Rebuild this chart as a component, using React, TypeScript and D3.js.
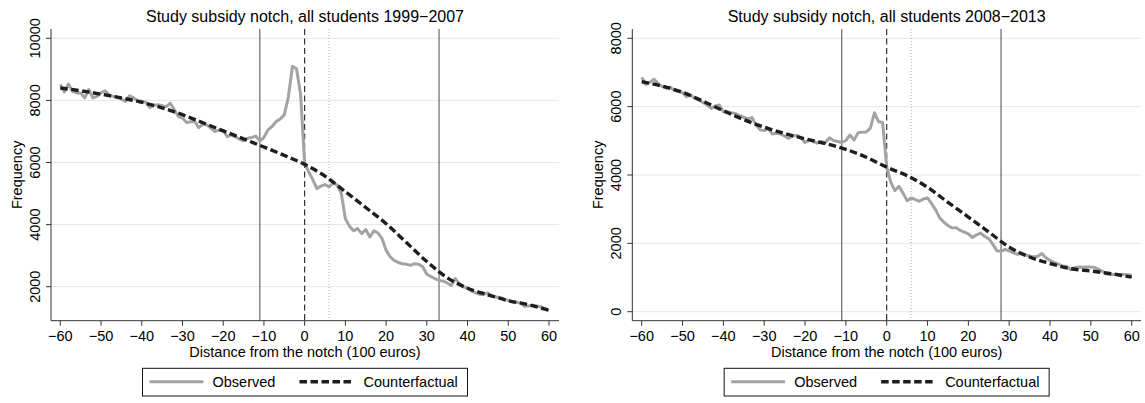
import React, { useEffect, useRef } from "react";
import * as d3 from "d3";

// bins -60..60 (100 euros)
const bins = d3.range(-60, 61);
const cfBins = d3.range(-60, 61, 5);

const obs9907 = [
  8510, 8270, 8530, 8290, 8240, 8240, 8080, 8350, 8080, 8130,
  8240, 8310, 8170, 8130, 8100, 8040, 7970, 8150, 8080, 7990,
  7970, 7940, 7770, 7840, 7860, 7830, 7800, 7910, 7700, 7480,
  7430, 7290, 7310, 7320, 7120, 7230, 7210, 7100, 7000, 7050,
  7030, 6830, 6890, 6830, 6750, 6700, 6780, 6810, 6850, 6690,
  6810, 7050, 7160, 7320, 7400, 7540, 8110, 9100, 9020, 8200,
  5970, 5700, 5450, 5160, 5240, 5290, 5220, 5340, 5270, 5000,
  4190, 3950, 3800, 3870, 3710, 3840, 3600, 3800, 3730, 3550,
  3170, 2960, 2850, 2780, 2740, 2720, 2690, 2740, 2720, 2640,
  2400, 2330, 2260, 2200, 2180, 2120, 2040, 2260, 2100, 1990,
  1960, 1860, 1800, 1750, 1750, 1800, 1690, 1670, 1650, 1590,
  1560, 1510, 1500, 1470, 1370, 1380, 1400, 1380, 1350, 1290, 1240,
];
const cf9907 = [
  8400, 8310, 8200, 8080, 7940, 7760, 7540, 7280, 7020, 6760, 6500, 6230,
  5940, 5560, 5060, 4550, 4030, 3420, 2810, 2290, 1950, 1740, 1550, 1420, 1240,
];

const obs0813 = [
  6860, 6650, 6710, 6800, 6680, 6590, 6540, 6570, 6470, 6440,
  6410, 6290, 6340, 6240, 6200, 6120, 6050, 5950, 6020, 6050,
  5850, 5850, 5820, 5800, 5740, 5690, 5640, 5680, 5460, 5320,
  5300, 5350, 5200, 5220, 5200, 5140, 5070, 5140, 5160, 5090,
  4950, 5020, 4980, 4930, 4980, 4950, 5090, 5010, 4980, 4950,
  5010, 5170, 5020, 5240, 5250, 5260, 5370, 5820, 5560, 5540,
  4230, 3790, 3540, 3670, 3470, 3250, 3330, 3280, 3230, 3300,
  3330, 3160, 2980, 2740, 2620, 2520, 2450, 2460, 2380, 2330,
  2280, 2170, 2250, 2300, 2200, 2140, 1970, 1780, 1770, 1820,
  1780, 1720, 1680, 1700, 1660, 1630, 1600, 1620, 1700, 1580,
  1500, 1440, 1390, 1340, 1330, 1230, 1290, 1310, 1300, 1310,
  1310, 1290, 1230, 1170, 1100, 1090, 1090, 1090, 1090, 1080, 1070,
];
const cf0813 = [
  6730, 6600, 6420, 6160, 5880, 5620, 5400, 5215, 5060, 4920, 4750, 4520,
  4230, 3980, 3640, 3200, 2770, 2330, 1890, 1600, 1410, 1260, 1190, 1110, 1010,
];

const xTicks = [-60, -50, -40, -30, -20, -10, 0, 10, 20, 30, 40, 50, 60];
const yTicks9907 = [2000, 4000, 6000, 8000, 10000];
const yTicks0813 = [0, 2000, 4000, 6000, 8000];

const panels = [
  {
    title: "Study subsidy notch, all students 1999\u22122007",
    obs: obs9907, cf: cf9907, yTicks: yTicks9907,
    lower: -11, upper: 33, dominated: 6,
    left: 51, right: 559, xRange: [60.3, 549], yRange: [286.7, 38.3],
  },
  {
    title: "Study subsidy notch, all students 2008\u22122013",
    obs: obs0813, cf: cf0813, yTicks: yTicks0813,
    lower: -11, upper: 28, dominated: 6,
    left: 632.3, right: 1141, xRange: [641.7, 1131.7], yRange: [311.7, 38.3],
  },
];

const FONT = "'Liberation Sans', Arial, Helvetica, sans-serif";
const top = 29;
const bottom = 320.7;

const App = () => {
  const svgRef = useRef<SVGSVGElement>(null);

  useEffect(() => {
    const svg = d3.select(svgRef.current);
    svg.selectAll("*").remove();
    svg.append("rect").attr("width", 1145).attr("height", 403).attr("fill", "#fff");

    panels.forEach((p) => {
      const x = d3.scaleLinear().domain([-60, 60]).range(p.xRange);
      const y = d3
        .scaleLinear()
        .domain([p.yTicks[0], p.yTicks[p.yTicks.length - 1]])
        .range(p.yRange);
      const g = svg.append("g").attr("font-family", FONT);
      const cx = (p.left + p.right) / 2;

      // gridlines
      g.selectAll(".grid")
        .data(p.yTicks)
        .enter()
        .append("line")
        .attr("x1", p.left)
        .attr("x2", p.right)
        .attr("y1", (d) => y(d))
        .attr("y2", (d) => y(d))
        .attr("stroke", "#e6e6e6")
        .attr("stroke-width", 1);

      // reference lines
      g.append("line")
        .attr("x1", x(p.dominated)).attr("x2", x(p.dominated))
        .attr("y1", top).attr("y2", bottom)
        .attr("stroke", "#a8a8a8").attr("stroke-width", 0.9)
        .attr("stroke-dasharray", "1,2");
      [p.lower, p.upper].forEach((v) => {
        g.append("line")
          .attr("x1", x(v)).attr("x2", x(v))
          .attr("y1", top).attr("y2", bottom)
          .attr("stroke", "#4a4a4a").attr("stroke-width", 1);
      });
      g.append("line")
        .attr("x1", x(0)).attr("x2", x(0))
        .attr("y1", top).attr("y2", bottom)
        .attr("stroke", "#222").attr("stroke-width", 1.1)
        .attr("stroke-dasharray", "6,3.5");

      // series
      const line = d3
        .line<number>()
        .x((d, i) => x(bins[i]))
        .y((d) => y(d));
      g.append("path")
        .datum(p.obs)
        .attr("d", line)
        .attr("fill", "none")
        .attr("stroke", "#a3a3a3")
        .attr("stroke-width", 3)
        .attr("stroke-linejoin", "round");

      const cfLine = d3
        .line<number>()
        .curve(d3.curveMonotoneX)
        .x((d, i) => x(cfBins[i]))
        .y((d) => y(d));
      g.append("path")
        .datum(p.cf)
        .attr("d", cfLine)
        .attr("fill", "none")
        .attr("stroke", "#1e1e1e")
        .attr("stroke-width", 3.4)
        .attr("stroke-dasharray", "7.5,3.5");

      // axes
      g.append("line")
        .attr("x1", p.left).attr("x2", p.left)
        .attr("y1", top).attr("y2", bottom)
        .attr("stroke", "#333").attr("stroke-width", 1);
      g.append("line")
        .attr("x1", p.left).attr("x2", p.right)
        .attr("y1", bottom).attr("y2", bottom)
        .attr("stroke", "#333").attr("stroke-width", 1);

      xTicks.forEach((t) => {
        g.append("line")
          .attr("x1", x(t)).attr("x2", x(t))
          .attr("y1", bottom).attr("y2", bottom + 5)
          .attr("stroke", "#333");
        g.append("text")
          .attr("x", x(t))
          .attr("y", 340.5)
          .attr("text-anchor", "middle")
          .attr("font-size", 14.5)
          .text(d3.format("d")(t));
      });
      p.yTicks.forEach((t) => {
        g.append("line")
          .attr("x1", p.left - 5).attr("x2", p.left)
          .attr("y1", y(t)).attr("y2", y(t))
          .attr("stroke", "#333");
        g.append("text")
          .attr("transform", `translate(${p.left - 11},${y(t)}) rotate(-90)`)
          .attr("text-anchor", "middle")
          .attr("font-size", 14.5)
          .text(t);
      });

      g.append("text")
        .attr("x", cx)
        .attr("y", 356.5)
        .attr("text-anchor", "middle")
        .attr("font-size", 14.5)
        .text("Distance from the notch (100 euros)");
      g.append("text")
        .attr("transform", `translate(${p.left - 29},${(top + bottom) / 2}) rotate(-90)`)
        .attr("text-anchor", "middle")
        .attr("font-size", 14.5)
        .text("Frequency");
      g.append("text")
        .attr("x", cx)
        .attr("y", 22)
        .attr("text-anchor", "middle")
        .attr("font-size", 16)
        .text(p.title);

      // legend
      const lx = cx - 162.5;
      const ly = 368.3;
      g.append("rect")
        .attr("x", lx).attr("y", ly)
        .attr("width", 325).attr("height", 27.7)
        .attr("fill", "#fff").attr("stroke", "#111").attr("stroke-width", 1);
      g.append("line")
        .attr("x1", lx + 7).attr("x2", lx + 61)
        .attr("y1", ly + 13.5).attr("y2", ly + 13.5)
        .attr("stroke", "#a3a3a3").attr("stroke-width", 3);
      g.append("text")
        .attr("x", lx + 70).attr("y", ly + 19)
        .attr("font-size", 14.5)
        .text("Observed");
      g.append("line")
        .attr("x1", lx + 157).attr("x2", lx + 212)
        .attr("y1", ly + 13.5).attr("y2", ly + 13.5)
        .attr("stroke", "#1e1e1e").attr("stroke-width", 3.4)
        .attr("stroke-dasharray", "7.5,3.5");
      g.append("text")
        .attr("x", lx + 221).attr("y", ly + 19)
        .attr("font-size", 14.5)
        .text("Counterfactual");
    });
  }, []);

  return (
    <svg
      ref={svgRef}
      width={1145}
      height={403}
      style={{ position: "absolute", left: 0, top: 0 }}
    ></svg>
  );
};

export default App;
